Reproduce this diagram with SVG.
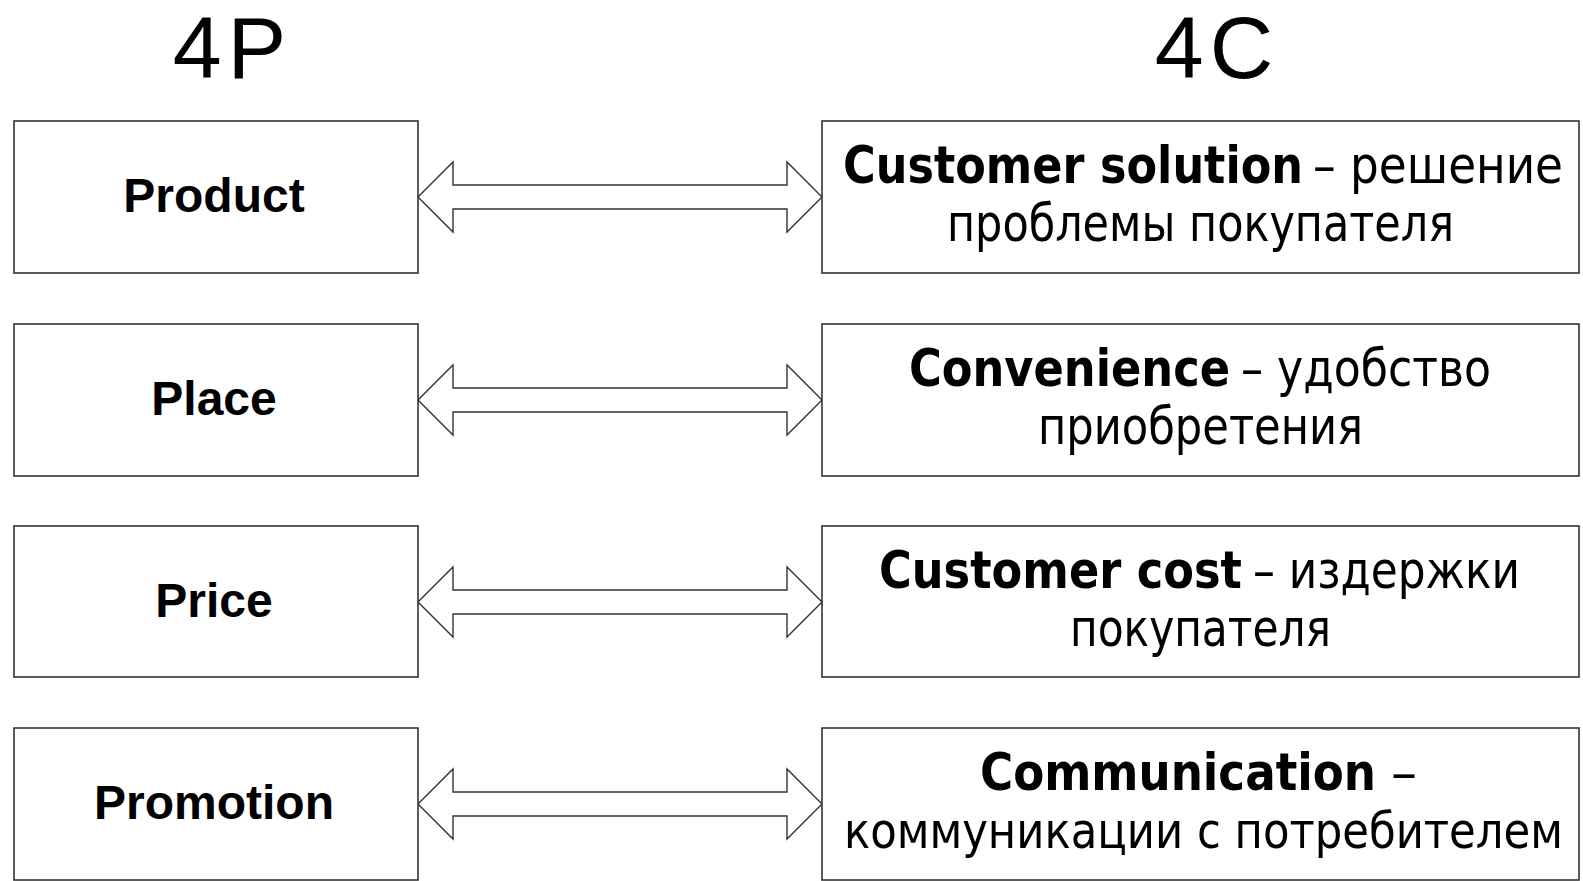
<svg xmlns="http://www.w3.org/2000/svg" width="1583" height="881" viewBox="0 0 1583 881">
<style>
.box{fill:#fff;stroke:#333;stroke-width:1.6}
.arr{fill:#fff;stroke:#333;stroke-width:1.4;stroke-linejoin:miter}
.head{font-family:"Liberation Sans",Arial,sans-serif;font-size:88px;fill:#000;letter-spacing:6px;text-anchor:middle}
.p{font-family:"Liberation Sans",Arial,sans-serif;font-weight:bold;font-size:48px;fill:#000;text-anchor:middle}
.c{font-family:"DejaVu Sans Condensed","DejaVu Sans",sans-serif;font-stretch:condensed;font-size:52px;fill:#000}
.b{font-weight:bold}
</style>
<rect width="1583" height="881" fill="#fff"/>
<text class="head" x="232.5" y="78">4P</text>
<text class="head" x="1217" y="78">4C</text>

<g id="connectors">
<polygon class="arr" points="418,197 453,162 453,185 787,185 787,162 822,197 787,232 787,209 453,209 453,232"/>
<polygon class="arr" points="418,400 453,365 453,388 787,388 787,365 822,400 787,435 787,412 453,412 453,435"/>
<polygon class="arr" points="418,602 453,567 453,590 787,590 787,567 822,602 787,637 787,614 453,614 453,637"/>
<polygon class="arr" points="418,804 453,769 453,792 787,792 787,769 822,804 787,839 787,816 453,816 453,839"/>
</g>

<g id="product"><rect class="box" x="14" y="121" width="404" height="152"/><text class="p" x="214" y="212">Product</text></g>
<g id="place"><rect class="box" x="14" y="324" width="404" height="152"/><text class="p" x="214" y="415">Place</text></g>
<g id="price"><rect class="box" x="14" y="526" width="404" height="151"/><text class="p" x="214" y="617">Price</text></g>
<g id="promotion"><rect class="box" x="14" y="728" width="404" height="152"/><text class="p" x="214" y="819">Promotion</text></g>

<g id="customer-solution"><rect class="box" x="822" y="121" width="757" height="152"/>
<text class="c b" x="843" y="183" textLength="460" lengthAdjust="spacingAndGlyphs">Customer solution</text>
<text class="c" x="1313" y="183" textLength="250" lengthAdjust="spacingAndGlyphs">– решение</text>
<text class="c" x="947" y="241" textLength="507" lengthAdjust="spacingAndGlyphs">проблемы покупателя</text></g>

<g id="convenience"><rect class="box" x="822" y="324" width="757" height="152"/>
<text class="c b" x="909" y="386" textLength="321" lengthAdjust="spacingAndGlyphs">Convenience</text>
<text class="c" x="1241" y="386" textLength="250" lengthAdjust="spacingAndGlyphs">– удобство</text>
<text class="c" x="1038" y="444" textLength="325" lengthAdjust="spacingAndGlyphs">приобретения</text></g>

<g id="customer-cost"><rect class="box" x="822" y="526" width="757" height="151"/>
<text class="c b" x="879" y="588" textLength="363" lengthAdjust="spacingAndGlyphs">Customer cost</text>
<text class="c" x="1253" y="588" textLength="267" lengthAdjust="spacingAndGlyphs">– издержки</text>
<text class="c" x="1070" y="646" textLength="261" lengthAdjust="spacingAndGlyphs">покупателя</text></g>

<g id="communication"><rect class="box" x="822" y="728" width="757" height="152"/>
<text class="c b" x="980" y="790" textLength="396" lengthAdjust="spacingAndGlyphs">Communication</text>
<text class="c" x="1391" y="790" textLength="26" lengthAdjust="spacingAndGlyphs">–</text>
<text class="c" x="844" y="848" font-size="49" style="font-size:49px" textLength="719" lengthAdjust="spacingAndGlyphs">коммуникации с потребителем</text></g>
</svg>
